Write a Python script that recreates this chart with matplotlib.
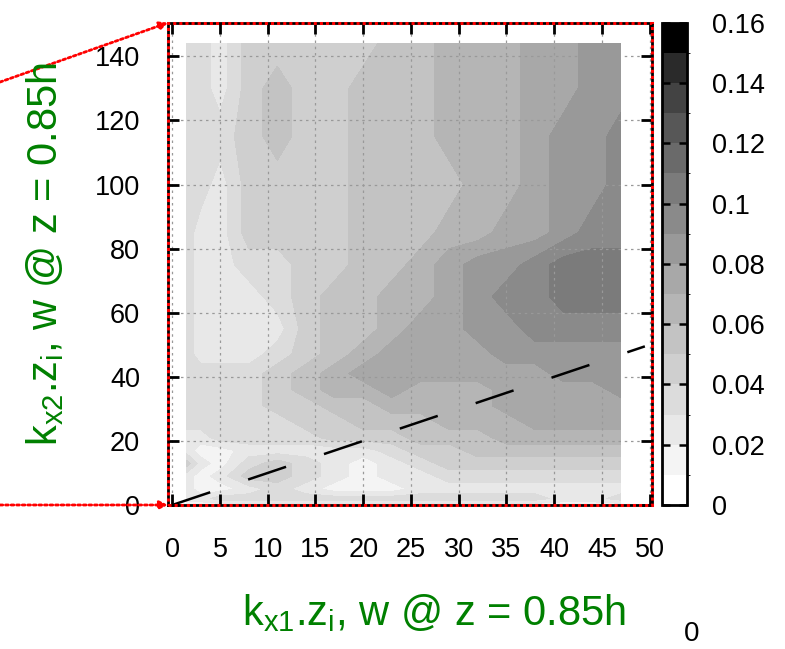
import numpy as np
import matplotlib
matplotlib.use("Agg")
import matplotlib.pyplot as plt
from matplotlib.colors import ListedColormap, BoundaryNorm
from matplotlib.patches import Rectangle

plt.rcParams['font.family'] = ['Liberation Sans', 'DejaVu Sans']
plt.rcParams['mathtext.fontset'] = 'custom'
plt.rcParams['mathtext.rm'] = 'Liberation Sans'

# grid of the spectrum
kx1 = np.array([1.5, 3, 5, 8, 11, 14, 17, 20, 23, 26, 29, 32, 35, 38, 41, 44, 47])
kx2 = np.array([0, 2, 5, 9, 13, 17, 21, 26, 31, 36, 41, 47, 55, 65, 75, 85, 100, 115, 130, 144])

# values in 1e-3 units, one row per kx2 (bottom to top)
spec_rows = [
    [15, 15, 15, 15, 15, 15, 15, 15, 15, 15, 15, 15, 15, 15, 15, 15, 15],
    [25, 25, 35, 35, 35, 35, 35, 35, 35, 35, 35, 35, 35, 35, 25, 25, 35],
    [25, 15, 15, 25, 35, 25, 15, 15, 15, 25, 25, 25, 25, 25, 25, 25, 25],
    [25, 15, 25, 45, 45, 35, 25, 15, 25, 25, 35, 35, 35, 35, 35, 35, 35],
    [45, 25, 15, 35, 45, 35, 25, 15, 25, 35, 45, 45, 45, 45, 45, 45, 45],
    [25, 15, 15, 25, 25, 25, 25, 25, 35, 45, 45, 55, 55, 55, 55, 55, 55],
    [25, 25, 35, 35, 35, 35, 45, 45, 45, 55, 55, 55, 65, 65, 65, 65, 65],
    [35, 35, 35, 35, 35, 45, 45, 55, 55, 55, 65, 65, 65, 75, 75, 75, 75],
    [35, 35, 35, 35, 45, 45, 55, 55, 65, 65, 65, 65, 75, 75, 75, 75, 75],
    [35, 35, 35, 35, 45, 55, 65, 65, 75, 65, 65, 65, 75, 75, 75, 75, 85],
    [35, 35, 35, 35, 45, 55, 65, 75, 75, 75, 75, 75, 75, 75, 85, 85, 85],
    [35, 25, 25, 25, 35, 45, 55, 65, 75, 75, 75, 75, 85, 85, 85, 85, 85],
    [35, 25, 25, 25, 25, 45, 55, 55, 65, 75, 75, 85, 85, 95, 95, 95, 95],
    [35, 25, 25, 25, 35, 45, 55, 55, 65, 65, 75, 85, 95, 95, 105, 105, 105],
    [35, 25, 25, 35, 35, 45, 45, 55, 55, 65, 75, 85, 85, 95, 105, 105, 105],
    [35, 25, 25, 45, 45, 45, 45, 55, 55, 55, 65, 65, 75, 75, 85, 95, 95],
    [35, 35, 25, 45, 45, 45, 45, 55, 55, 55, 55, 65, 65, 75, 85, 85, 95],
    [35, 35, 35, 45, 55, 45, 45, 55, 55, 55, 65, 65, 65, 75, 85, 85, 95],
    [35, 35, 25, 45, 55, 45, 45, 55, 55, 55, 65, 65, 65, 75, 75, 85, 85],
    [35, 35, 25, 45, 45, 45, 45, 45, 55, 55, 65, 65, 65, 75, 75, 85, 85],
]
spec = np.array(spec_rows) * 1e-3

levels = np.linspace(0, 0.16, 17)
cbar_ticks = [0, 0.02, 0.04, 0.06, 0.08, 0.1, 0.12, 0.14, 0.16]
xticks = [0, 5, 10, 15, 20, 25, 30, 35, 40, 45, 50]
yticks = [0, 20, 40, 60, 80, 100, 120, 140]
diag_k = [0, 49.5]

# gnuplot-like negative gray palette, 16 steps
grays = [(1 - i / 15) ** (2 / 3) for i in range(16)]
cmap = ListedColormap([(g, g, g) for g in grays])
norm = BoundaryNorm(levels, cmap.N)

fig = plt.figure(figsize=(7.85, 6.49), dpi=100)
ax = fig.add_axes([0.2140, 0.2219, 0.6166, 0.7431])
cax = fig.add_axes([0.8429, 0.2219, 0.0322, 0.7431])

cs = ax.contourf(kx1, kx2, spec, levels=levels, cmap=cmap, norm=norm)
ax.plot(diag_k, diag_k, color='black', lw=1.8, dashes=(16, 16))

ax.set_xlim(-0.45, 50.25)
ax.set_ylim(0, 150.5)
ax.set_xticks(xticks)
ax.set_yticks(yticks)
ax.grid(True, color='#999999', linestyle=(0, (2, 3)), linewidth=0.9)
ax.tick_params(direction='in', top=True, right=True, length=8, width=2,
               labelsize=19.5)
ax.tick_params(axis='x', pad=23)
ax.tick_params(axis='y', pad=20)
for s in ax.spines.values():
    s.set_linewidth(2)
ax.add_patch(Rectangle((0, 0), 1, 1, transform=ax.transAxes, fill=False,
                       edgecolor='red', linestyle=(0, (1, 1)), lw=2.2,
                       clip_on=False, zorder=5))

cb = fig.colorbar(cs, cax=cax, ticks=cbar_ticks)
cb.outline.set_linewidth(2)
cb.ax.set_yticklabels([f'{v:g}' for v in cbar_ticks])
cax.tick_params(direction='in', left=True, right=True, length=6, width=1.8,
                labelsize=19.5, pad=18)

# red dotted zoom lines
arrow = dict(arrowstyle='-|>', color='red', lw=2, linestyle=(0, (1, 1)),
             mutation_scale=12, shrinkA=0, shrinkB=0)
ax.annotate('', xy=(0, 1), xycoords='axes fraction', xytext=(0, 0.8736),
            textcoords='figure fraction', arrowprops=arrow,
            annotation_clip=False)
ax.annotate('', xy=(0, 0), xycoords='axes fraction', xytext=(0, 0.2219),
            textcoords='figure fraction', arrowprops=arrow,
            annotation_clip=False)

green = '#008000'
fig.text(0.553, 0.037, r'k$_\mathregular{x1}$.z$_\mathregular{i}$, w @ z = 0.85h',
         color=green, fontsize=30, ha='center', va='baseline')
fig.text(0.058, 0.6086, r'k$_\mathregular{x2}$.z$_\mathregular{i}$, w @ z = 0.85h',
         color=green, fontsize=30, ha='center', va='center', rotation=90)
fig.text(0.881, 0.003, '0', fontsize=20, ha='center', va='bottom')

fig.savefig('out.png', dpi=100)
